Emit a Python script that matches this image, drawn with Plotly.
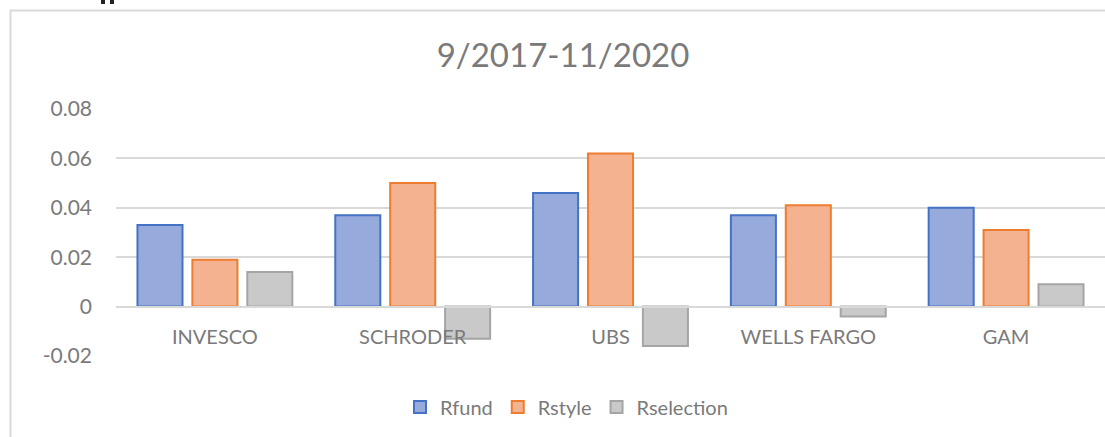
import plotly.graph_objects as go

categories = ["INVESCO", "SCHRODER", "UBS", "WELLS FARGO", "GAM"]
rfund = [0.033, 0.037, 0.046, 0.037, 0.040]
rstyle = [0.019, 0.050, 0.062, 0.041, 0.031]
rselection = [0.014, -0.013, -0.016, -0.004, 0.009]
title_text = "9/2017-11/2020"
tick_vals = [-0.02, 0, 0.02, 0.04, 0.06, 0.08]
tick_text = ["-0.02", "0", "0.02", "0.04", "0.06", "0.08"]

FONT = "Lato"
GRAY = "#7a7a7a"
GRID = "#d9d9d9"

W, H = 1105, 437
L, R, T, B = 116, 0, 109, 81
pw, ph = W - L - R, H - T - B

fig = go.Figure()
fig.add_trace(go.Bar(name="Rfund", x=categories, y=rfund,
                     marker=dict(color="#97aadc", line=dict(color="#4472c4", width=2))))
fig.add_trace(go.Bar(name="Rstyle", x=categories, y=rstyle,
                     marker=dict(color="#f5b290", line=dict(color="#ed7d31", width=2))))
fig.add_trace(go.Bar(name="Rselection", x=categories, y=rselection,
                     marker=dict(color="#c9c9c9", line=dict(color="#a5a5a5", width=2))))

ymin, ymax = -0.02, 0.08
zero_pos = (0 - ymin) / (ymax - ymin)

def px_x(x):
    return (x - L) / pw

def px_y(y):
    return (H - B - y) / ph

fig.update_layout(
    width=W, height=H,
    margin=dict(l=L, r=R, t=T, b=B, pad=0),
    paper_bgcolor="white", plot_bgcolor="white",
    barmode="group", bargap=0.167, bargroupgap=0.18,
    font=dict(family=FONT, color=GRAY, size=20),
    title=dict(text=title_text, x=563 / W, xanchor="center",
               y=1 - 55 / H, yanchor="middle",
               font=dict(family=FONT, size=33, color=GRAY)),
    xaxis=dict(anchor="free", position=zero_pos, showline=True, linecolor=GRID,
               linewidth=2, ticks="", showgrid=False, tickfont=dict(size=20, color=GRAY),
               ticklabelstandoff=12),
    yaxis=dict(range=[ymin, ymax], tickvals=tick_vals, ticktext=tick_text,
               showgrid=True, gridcolor=GRID, gridwidth=2, zeroline=False,
               showline=False, ticks="", tickfont=dict(size=21, color=GRAY),
               ticklabelstandoff=23),
    legend=dict(orientation="h", x=px_x(400), xanchor="left",
                y=px_y(407), yanchor="middle",
                font=dict(size=20, color=GRAY), itemwidth=30,
                traceorder="normal"),
    showlegend=True,
)

# chart-area border (light gray frame)
fig.add_shape(type="rect", xref="paper", yref="paper",
              x0=px_x(10.5), x1=px_x(W + 20),
              y0=px_y(H + 20), y1=px_y(10.5),
              line=dict(color=GRID, width=2), fillcolor="rgba(0,0,0,0)", layer="below")

# small dark marks cut off at the top edge
for x0, x1 in [(101, 105), (110, 114)]:
    fig.add_shape(type="rect", xref="paper", yref="paper",
                  x0=px_x(x0), x1=px_x(x1), y0=px_y(4), y1=px_y(-2),
                  line=dict(width=0), fillcolor="#222222")

fig.write_html("out.html", config={"displayModeBar": False},
               post_script="document.body.style.margin='0';")
